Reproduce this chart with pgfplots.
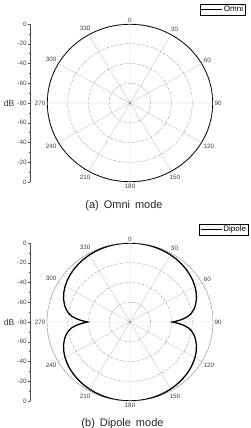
\documentclass[border=0pt]{standalone}
\usepackage{fontspec}
\setmainfont{Liberation Sans}
\usepackage{pgfplots}
\usepgfplotslibrary{polar}
\pgfplotsset{compat=1.18}
\usepackage{pgfplotstable}

% compass angle (deg, clockwise from top) and gain in dB
\pgfplotstableread{
phi dB
0 0
5 0
10 0
15 0
20 0
25 0
30 0
35 0
40 0
45 0
50 0
55 0
60 0
65 0
70 0
75 0
80 0
85 0
90 0
95 0
100 0
105 0
110 0
115 0
120 0
125 0
130 0
135 0
140 0
145 0
150 0
155 0
160 0
165 0
170 0
175 0
180 0
185 0
190 0
195 0
200 0
205 0
210 0
215 0
220 0
225 0
230 0
235 0
240 0
245 0
250 0
255 0
260 0
265 0
270 0
275 0
280 0
285 0
290 0
295 0
300 0
305 0
310 0
315 0
320 0
325 0
330 0
335 0
340 0
345 0
350 0
355 0
360 0
}\omnidata

\pgfplotstableread{
phi dB
0 0
5 -0.05
10 -0.17
15 -0.40
20 -0.70
25 -1.10
30 -1.62
35 -2.25
40 -3.00
45 -3.90
50 -4.96
55 -6.22
60 -7.73
65 -9.56
70 -11.82
75 -14.74
78 -16.96
80 -18.74
82 -20.84
84 -23.43
86 -27.5
87 -30.0
88 -32.8
89 -35.8
90 -39.0
91 -35.8
92 -32.8
93 -30.0
94 -27.5
96 -23.43
98 -20.84
100 -18.74
102 -16.96
105 -14.74
110 -11.82
115 -9.56
120 -7.73
125 -6.22
130 -4.96
135 -3.90
140 -3.00
145 -2.25
150 -1.62
155 -1.10
160 -0.70
165 -0.40
170 -0.17
175 -0.05
180 0
185 -0.05
190 -0.17
195 -0.40
200 -0.70
205 -1.10
210 -1.62
215 -2.25
220 -3.00
225 -3.90
230 -4.96
235 -6.22
240 -7.73
245 -9.56
250 -11.82
255 -14.74
258 -16.96
260 -18.74
262 -20.84
264 -23.43
266 -27.5
267 -30.0
268 -32.8
269 -35.8
270 -39.0
271 -35.8
272 -32.8
273 -30.0
274 -27.5
276 -23.43
278 -20.84
280 -18.74
282 -16.96
285 -14.74
290 -11.82
295 -9.56
300 -7.73
305 -6.22
310 -4.96
315 -3.90
320 -3.00
325 -2.25
330 -1.62
335 -1.10
340 -0.70
345 -0.40
350 -0.17
355 -0.05
360 0
}\dipoledata

\pgfplotsset{
  mypolar/.style={
    scale only axis, width=166pt, height=158pt,
    xmin=0, xmax=360, ymin=0, ymax=80,
    xtick={0,30,...,330},
    xticklabels={90,60,30,0,330,300,270,240,210,180,150,120},
    ytick={20,40,60,80}, yticklabels={},
    xmajorgrids, ymajorgrids,
    x grid style={black!22, line width=0.4pt},
    y grid style={black!45, line width=0.35pt, dash pattern=on 2pt off 1pt on 0.5pt off 1pt},
    x axis line style={black!35, line width=0.4pt},
    y axis line style={draw=none},
    major tick style={draw=none}, minor tick style={draw=none},
    xticklabel style={font=\fontsize{6.3}{7}\selectfont, text=black!75, inner sep=1.5pt},
    legend image code/.code={\draw[black, line width=1.2pt] (0pt,0pt) -- (21pt,0pt);},
    legend style={draw=black, line width=0.4pt, font=\fontsize{8}{9}\selectfont,
      inner sep=0.8pt, legend cell align=left,
      nodes={inner sep=1pt}},
  },
  dbaxis/.style={
    scale only axis, width=1pt, height=158pt,
    xmin=0, xmax=1, ymin=-80, ymax=80,
    hide x axis, axis y line*=left,
    ytick={-80,-60,...,80},
    yticklabels={0,-20,-40,-60,-80,-60,-40,-20,0},
    minor y tick num=1,
    tick align=outside,
    major tick length=2.2pt, minor tick length=1.4pt,
    axis line style={black!70, line width=0.4pt},
    tick style={black!70, line width=0.4pt},
    yticklabel style={font=\fontsize{6.3}{7}\selectfont, text=black!75, inner sep=1pt},
  },
}

\begin{document}
\begin{tikzpicture}
\useasboundingbox (0,0) rectangle (251pt,-428pt);

% ---------- (a) Omni ----------
\begin{axis}[dbaxis, at={(30pt,-103pt)}, anchor=west]
\end{axis}
\node[font=\fontsize{8.5}{9}\selectfont, text=black!80] at (9pt,-103pt) {dB};

\begin{polaraxis}[mypolar, at={(130pt,-103pt)}, anchor=center,
  legend style={at={(1.193,1.127)}, anchor=north east}]
\addplot[forget plot, only marks, mark=*, mark size=0.7pt, black!45] coordinates {(0,0)};
\addplot[black, line width=1.3pt, no marks] table[x expr={90-\thisrow{phi}}, y expr={\thisrow{dB}+80}] {\omnidata};
\addlegendentry{Omni}
\end{polaraxis}

\node[font=\fontsize{11}{13}\selectfont, text=black!85] at (124pt,-205.5pt) {(a)\hspace{0.45em}Omni\hspace{0.45em}mode};

% ---------- (b) Dipole ----------
\begin{axis}[dbaxis, at={(30pt,-322pt)}, anchor=west]
\end{axis}
\node[font=\fontsize{8.5}{9}\selectfont, text=black!80] at (9pt,-322pt) {dB};

\begin{polaraxis}[mypolar, at={(130pt,-322pt)}, anchor=center,
  legend style={at={(1.211,1.120)}, anchor=north east}]
\addplot[forget plot, only marks, mark=*, mark size=0.7pt, black!45] coordinates {(0,0)};
\addplot[black, line width=1.3pt, no marks] table[x expr={90-\thisrow{phi}}, y expr={\thisrow{dB}+80}] {\dipoledata};
\addlegendentry{Dipole}
\end{polaraxis}

\node[font=\fontsize{11}{13}\selectfont, text=black!85] at (122.5pt,-424pt) {(b)\hspace{0.45em}Dipole\hspace{0.45em}mode};
\end{tikzpicture}
\end{document}
